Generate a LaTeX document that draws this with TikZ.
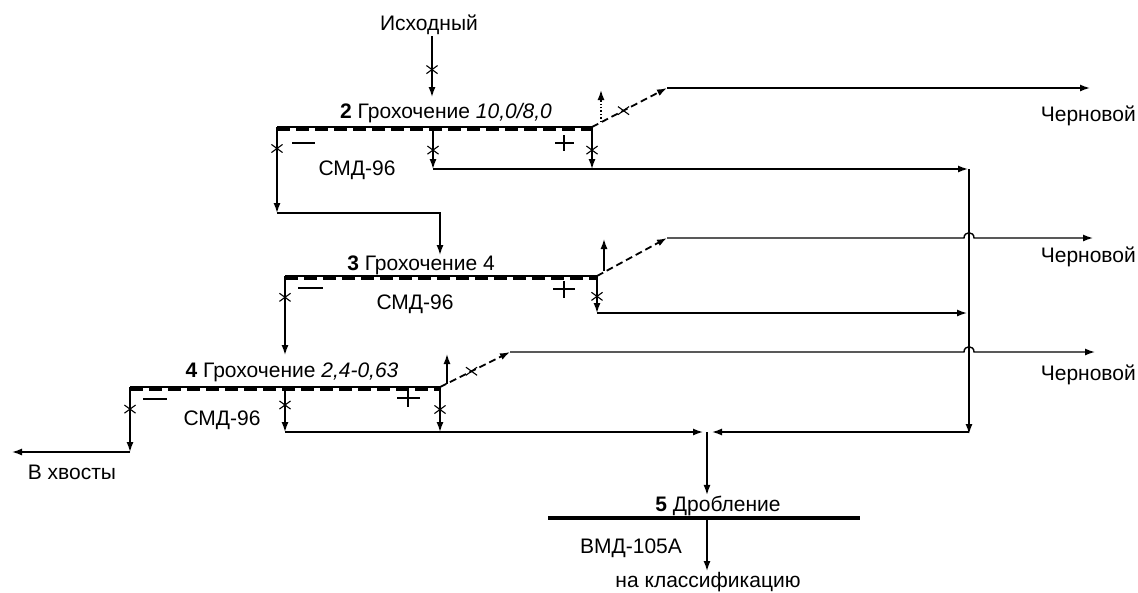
\documentclass[tikz,border=0pt]{standalone}
\usepackage{fontspec}
\setmainfont{Liberation Sans}
\usetikzlibrary{arrows.meta,shapes.misc}
\tikzset{
  flow/.style={
    -{Latex[length=10pt,width=7pt]},
    line width=1.4pt,
    draw=black
  },
  oversize/.style={
    flow,
    line width=1.8pt,
    dash pattern=on 7pt off 4pt
  },
  xmark/.style={
    cross out,
    draw,
    line width=1.1pt,
    minimum width=10pt,
    minimum height=7pt,
    inner sep=0pt,
    solid
  },
  screentop/.style={
    line width=2.4pt
  },
  screenmesh/.style={
    line width=3.5pt,
    dash pattern=on 13pt off 6pt,
    transform canvas={yshift=-2.5pt}
  },
  crusherline/.style={
    line width=4pt
  },
  signline/.style={
    line width=1.6pt
  },
  lbl/.style={
    inner sep=1pt
  }
}

\begin{document}
\begin{tikzpicture}[x=1pt,y=-1pt,font=\fontsize{21}{23}\selectfont]
\useasboundingbox (0,0) rectangle (1138,592);

% screen and crusher ends
\coordinate (s2w) at (277,127);
\coordinate (s2e) at (592,127);
\coordinate (s3w) at (285,276);
\coordinate (s3e) at (597,276);
\coordinate (s4w) at (130,387);
\coordinate (s4e) at (440,387);
\coordinate (crw) at (548,518);
\coordinate (cre) at (860,518);

% labels
\node[lbl] (feed) at (429,25) {Исходный};
\node[lbl] (s2lbl) at (446,113) {\textbf{2} Грохочение \textit{10,0/8,0}};
\node[lbl] (s2mach) at (357,170) {СМД-96};
\node[lbl] (s3lbl) at (421,265) {\textbf{3} Грохочение 4};
\node[lbl] (s3mach) at (415,304) {СМД-96};
\node[lbl] (s4lbl) at (292,372) {\textbf{4} Грохочение \textit{2,4-0,63}};
\node[lbl] (s4mach) at (222,420) {СМД-96};
\node[lbl] (tails) at (72,472) {В хвосты};
\node[lbl] (crlbl) at (718,506) {\textbf{5} Дробление};
\node[lbl] (crmach) at (631,548) {ВМД-105А};
\node[lbl] (classif) at (708,582) {на классификацию};
\node[lbl, anchor=east] (rough2) at (1137,116) {Черновой};
\node[lbl, anchor=east] (rough3) at (1137,257) {Черновой};
\node[lbl, anchor=east] (rough4) at (1137,375) {Черновой};

% under- and oversize signs
\draw[signline] (292,143) -- ++(23,0);
\draw[signline] (555,143) -- ++(19,0) (564,135) -- ++(0,16);
\draw[signline] (298,288) -- ++(25,0);
\draw[signline] (553,289) -- ++(22,0) (564,281) -- ++(0,17);
\draw[signline] (143,399) -- ++(24,0);
\draw[signline] (397,398) -- ++(23,0) (408,389) -- ++(0,18);

% screens
\foreach \s in {2,3,4} {
  \draw[screentop] (s\s w) -- (s\s e);
  \draw[screenmesh] (s\s w) -- (s\s e);
}
\draw[crusherline] (crw) -- (cre);

% feed
\coordinate (s2in) at (432,97);
\draw[flow] (s2in |- feed.south) -- node[xmark, pos=0.55] {} (s2in);

% screen 2
\coordinate (s2dl) at (277,213);
\coordinate (s3in) at (440,255);
\draw[flow] (s2w) -- node[xmark, pos=0.25] {} (s2dl);
\draw[flow] (s2dl) -| (s3in);
\coordinate (s2m) at (433,127);
\coordinate (s2mb) at (433,169);
\draw[flow] (s2m) -- node[xmark, pos=0.55] {} (s2mb);
\coordinate (s2eb) at (592,169);
\draw[flow] (s2e) -- node[xmark, pos=0.55] {} (s2eb);
\coordinate (col) at (969,169);
\draw[flow] (s2mb) -- ([xshift=-1pt]col);
\draw[flow, dotted, line width=1.5pt] (601,122) -- (601,90);
\coordinate (s2k) at (667,88);
\draw[oversize] (s2e) -- node[xmark, pos=0.42] {} (s2k);
\draw[flow] (s2k) -- (1090,88);

% screen 3
\coordinate (s4in) at (285,355);
\draw[flow] (s3w) -- node[xmark, pos=0.27] {} (s4in);
\coordinate (s3eb) at (597,313);
\draw[flow] (s3e) -- node[xmark, pos=0.55] {} (s3eb);
\draw[flow] (s3eb) -- (967,313);
\draw[flow] (604,271) -- (604,239);
\coordinate (s3k) at (667,238);
\draw[oversize] (s3e) -- (s3k);
\draw[flow] (s3k) -- (964,238) .. controls (964,231) and (974,231) .. (974,238) -- (1093,238);

% screen 4
\coordinate (s4dl) at (130,452);
\draw[flow] (s4w) -- node[xmark, pos=0.34] {} (s4dl);
\draw[flow] (s4dl) -- (12,452);
\coordinate (s4m) at (285,387);
\coordinate (s4mb) at (285,432);
\draw[flow] (s4m) -- node[xmark, pos=0.4] {} (s4mb);
\coordinate (crin) at (707,432);
\draw[flow] (s4mb) -- ([xshift=-4pt]crin);
\coordinate (s4eb) at (440,432);
\draw[flow] (s4e) -- node[xmark, pos=0.5] {} (s4eb);
\draw[flow] (447,384) -- (447,354);
\coordinate (s4k) at (510,352);
\draw[oversize] (s4e) -- node[xmark, pos=0.45] {} (s4k);
\draw[flow] (s4k) -- (964,352) .. controls (964,345) and (974,345) .. (974,352) -- (1095,352);

% collecting line to crusher
\coordinate (colb) at (969,432);
\draw[flow] (col) -- ([yshift=-2pt]colb);
\draw[flow] (colb) -- ([xshift=5pt]crin);
\draw[flow] (crin) -- (crlbl.north -| crin);
\draw[flow] (707,518) -- (classif.north -| crin);
\end{tikzpicture}
\end{document}
